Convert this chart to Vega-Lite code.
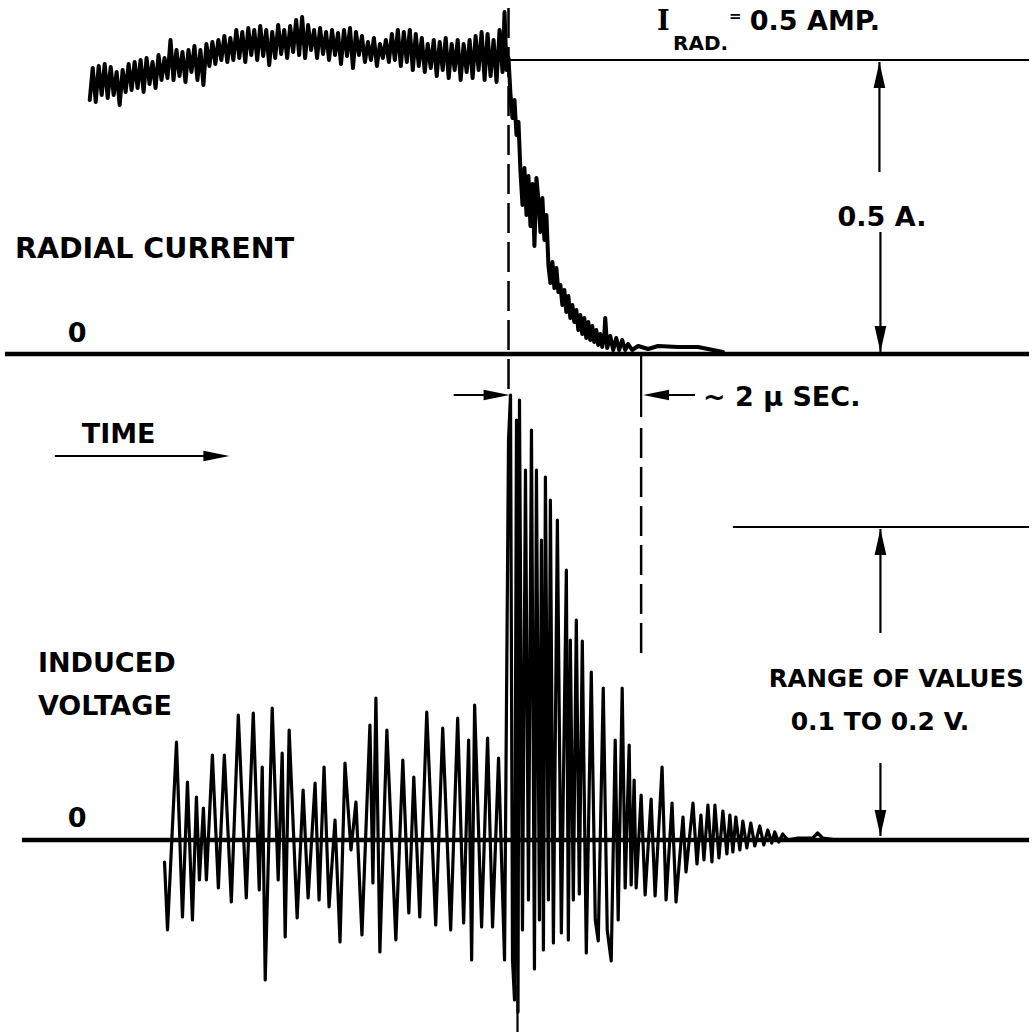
{
  "$schema": "https://vega.github.io/schema/vega-lite/v6.json",
  "width": 1032,
  "height": 1035,
  "padding": 0,
  "autosize": {"type": "fit", "contains": "padding"},
  "background": "white",
  "config": {"view": {"stroke": null}},
  "datasets": {
    "current": [
      {"x":90,"y":100},{"x":93,"y":68},{"x":96,"y":102},{"x":99,"y":66},{"x":102,"y":95},{"x":105,"y":64},{"x":108,"y":98},{"x":111,"y":67},{"x":114,"y":95},{"x":117,"y":72},
      {"x":120,"y":105},{"x":123,"y":70},{"x":126,"y":92},{"x":129,"y":64},{"x":132,"y":90},{"x":135,"y":62},{"x":138,"y":88},{"x":141,"y":60},{"x":144,"y":92},{"x":147,"y":58},
      {"x":150,"y":84},{"x":153,"y":62},{"x":156,"y":88},{"x":159,"y":55},{"x":162,"y":80},{"x":165,"y":58},{"x":168,"y":78},{"x":171,"y":40},{"x":174,"y":80},{"x":177,"y":50},
      {"x":180,"y":76},{"x":183,"y":52},{"x":186,"y":82},{"x":189,"y":50},{"x":192,"y":72},{"x":195,"y":46},{"x":198,"y":80},{"x":201,"y":50},{"x":204,"y":85},{"x":207,"y":44},
      {"x":210,"y":66},{"x":213,"y":42},{"x":216,"y":64},{"x":219,"y":40},{"x":222,"y":60},{"x":225,"y":36},{"x":228,"y":62},{"x":231,"y":38},{"x":234,"y":60},{"x":237,"y":30},
      {"x":240,"y":58},{"x":243,"y":32},{"x":246,"y":62},{"x":249,"y":28},{"x":252,"y":55},{"x":255,"y":30},{"x":258,"y":60},{"x":261,"y":26},{"x":264,"y":56},{"x":267,"y":30},
      {"x":270,"y":65},{"x":273,"y":32},{"x":276,"y":58},{"x":279,"y":25},{"x":282,"y":54},{"x":285,"y":30},{"x":288,"y":58},{"x":291,"y":26},{"x":294,"y":52},{"x":297,"y":20},
      {"x":300,"y":55},{"x":303,"y":17},{"x":306,"y":58},{"x":309,"y":25},{"x":312,"y":50},{"x":315,"y":30},{"x":318,"y":58},{"x":321,"y":28},{"x":324,"y":54},{"x":327,"y":32},
      {"x":330,"y":60},{"x":333,"y":30},{"x":336,"y":55},{"x":339,"y":33},{"x":342,"y":64},{"x":345,"y":30},{"x":348,"y":56},{"x":351,"y":28},{"x":354,"y":68},{"x":357,"y":32},
      {"x":360,"y":55},{"x":363,"y":36},{"x":366,"y":62},{"x":369,"y":42},{"x":372,"y":60},{"x":375,"y":38},{"x":378,"y":66},{"x":381,"y":44},{"x":384,"y":58},{"x":387,"y":40},
      {"x":390,"y":62},{"x":393,"y":34},{"x":396,"y":60},{"x":399,"y":30},{"x":402,"y":66},{"x":405,"y":32},{"x":408,"y":62},{"x":411,"y":30},{"x":414,"y":70},{"x":417,"y":34},
      {"x":420,"y":66},{"x":423,"y":38},{"x":426,"y":72},{"x":429,"y":44},{"x":432,"y":68},{"x":435,"y":40},{"x":438,"y":76},{"x":441,"y":42},{"x":444,"y":70},{"x":447,"y":38},
      {"x":450,"y":78},{"x":453,"y":44},{"x":456,"y":70},{"x":459,"y":40},{"x":462,"y":80},{"x":465,"y":44},{"x":468,"y":72},{"x":471,"y":40},{"x":474,"y":78},{"x":477,"y":36},
      {"x":480,"y":70},{"x":483,"y":32},{"x":486,"y":80},{"x":489,"y":34},{"x":492,"y":76},{"x":495,"y":40},{"x":498,"y":82},{"x":501,"y":30},{"x":504,"y":72},{"x":506,"y":12},
      {"x":508,"y":70},{"x":510,"y":58},{"x":512,"y":95},{"x":514,"y":118},{"x":516,"y":100},{"x":518,"y":135},{"x":520,"y":122},{"x":522,"y":172},{"x":524,"y":205},{"x":526,"y":168},
      {"x":528,"y":215},{"x":530,"y":176},{"x":532,"y":226},{"x":534,"y":184},{"x":536,"y":246},{"x":538,"y":178},{"x":540,"y":200},{"x":542,"y":232},{"x":544,"y":198},{"x":546,"y":240},
      {"x":548,"y":215},{"x":550,"y":265},{"x":552,"y":283},{"x":554,"y":262},{"x":556,"y":288},{"x":558,"y":268},{"x":560,"y":292},{"x":562,"y":285},{"x":564,"y":305},{"x":566,"y":290},
      {"x":568,"y":312},{"x":570,"y":296},{"x":572,"y":318},{"x":574,"y":305},{"x":576,"y":322},{"x":578,"y":310},{"x":580,"y":330},{"x":582,"y":315},{"x":584,"y":334},{"x":586,"y":318},
      {"x":588,"y":338},{"x":590,"y":322},{"x":592,"y":340},{"x":594,"y":326},{"x":596,"y":342},{"x":598,"y":330},{"x":600,"y":345},{"x":602,"y":334},{"x":604,"y":347},{"x":606,"y":336},
      {"x":607,"y":318},{"x":609,"y":348},{"x":612,"y":336},{"x":615,"y":350},{"x":618,"y":338},{"x":621,"y":350},{"x":624,"y":340},{"x":627,"y":350},{"x":630,"y":344},{"x":634,"y":350},
      {"x":640,"y":346},{"x":650,"y":349},{"x":660,"y":346},{"x":680,"y":347},{"x":700,"y":347},{"x":715,"y":350},{"x":725,"y":352}
    ],
    "voltage": [
      {"x":165,"y":862},{"x":168,"y":930},{"x":177,"y":742},{"x":183,"y":917},{"x":188,"y":782},{"x":193,"y":920},{"x":197,"y":797},{"x":200,"y":880},{"x":204,"y":808},{"x":207,"y":880},
      {"x":213,"y":755},{"x":219,"y":888},{"x":225,"y":755},{"x":232,"y":902},{"x":239,"y":715},{"x":247,"y":898},{"x":254,"y":713},{"x":260,"y":890},{"x":263,"y":767},{"x":266,"y":980},
      {"x":273,"y":708},{"x":279,"y":880},{"x":283,"y":753},{"x":286,"y":937},{"x":290,"y":730},{"x":298,"y":918},{"x":304,"y":790},{"x":309,"y":898},{"x":316,"y":783},{"x":320,"y":900},
      {"x":325,"y":767},{"x":330,"y":907},{"x":336,"y":820},{"x":341,"y":942},{"x":346,"y":763},{"x":352,"y":850},{"x":357,"y":802},{"x":363,"y":935},{"x":371,"y":725},{"x":374,"y":883},
      {"x":377,"y":698},{"x":381,"y":952},{"x":388,"y":730},{"x":397,"y":940},{"x":404,"y":760},{"x":410,"y":913},{"x":415,"y":777},{"x":421,"y":917},{"x":428,"y":712},{"x":437,"y":925},
      {"x":444,"y":728},{"x":452,"y":930},{"x":459,"y":718},{"x":465,"y":923},{"x":470,"y":740},{"x":473,"y":960},{"x":476,"y":705},{"x":483,"y":927},{"x":489,"y":738},{"x":494,"y":927},
      {"x":500,"y":758},{"x":506,"y":960},{"x":510,"y":440},{"x":512,"y":395},{"x":514,"y":960},{"x":516,"y":1000},{"x":518,"y":420},{"x":519.5,"y":1012},{"x":521,"y":400},{"x":524,"y":930},
      {"x":527,"y":470},{"x":530,"y":900},{"x":533,"y":430},{"x":536,"y":969},{"x":538,"y":470},{"x":541,"y":920},{"x":543,"y":540},{"x":545,"y":950},{"x":547,"y":477},{"x":550,"y":900},
      {"x":552,"y":500},{"x":555,"y":943},{"x":559,"y":520},{"x":563,"y":933},{"x":568,"y":570},{"x":570,"y":940},{"x":572,"y":640},{"x":575,"y":900},{"x":578,"y":620},{"x":581,"y":894},
      {"x":584,"y":641},{"x":588,"y":953},{"x":593,"y":672},{"x":597,"y":920},{"x":600,"y":941},{"x":605,"y":688},{"x":609,"y":930},{"x":613,"y":961},{"x":617,"y":740},{"x":620,"y":920},
      {"x":624,"y":688},{"x":627,"y":888},{"x":631,"y":745},{"x":633,"y":885},{"x":636,"y":780},{"x":638,"y":888},{"x":643,"y":795},{"x":647,"y":895},{"x":653,"y":799},{"x":657,"y":896},
      {"x":664,"y":767},{"x":668,"y":900},{"x":674,"y":803},{"x":678,"y":902},{"x":685,"y":817},{"x":688,"y":872},{"x":695,"y":803},{"x":699,"y":864},{"x":703,"y":815},{"x":706,"y":860},
      {"x":710,"y":805},{"x":714,"y":862},{"x":717,"y":805},{"x":721,"y":858},{"x":725,"y":811},{"x":729,"y":854},{"x":732,"y":815},{"x":735,"y":852},{"x":738,"y":817},{"x":742,"y":850},
      {"x":745,"y":821},{"x":749,"y":848},{"x":753,"y":823},{"x":757,"y":846},{"x":762,"y":826},{"x":766,"y":845},{"x":770,"y":830},{"x":774,"y":843},{"x":777,"y":832},{"x":781,"y":842},
      {"x":785,"y":834},{"x":790,"y":840},{"x":800,"y":838},{"x":815,"y":838},{"x":820,"y":833},{"x":825,"y":838},{"x":840,"y":840}
    ],
    "baselines": [
      {"x":5,"x2":1032,"y":354,"y2":354},
      {"x":22,"x2":1032,"y":840,"y2":840}
    ],
    "thin": [
      {"x":510,"x2":1032,"y":60,"y2":60},
      {"x":735,"x2":1032,"y":527,"y2":527},
      {"x":882,"x2":882,"y":62,"y2":172},
      {"x":883,"x2":883,"y":232,"y2":352},
      {"x":883,"x2":883,"y":529,"y2":633},
      {"x":883,"x2":883,"y":763,"y2":836},
      {"x":455,"x2":500,"y":395,"y2":395},
      {"x":655,"x2":697,"y":395,"y2":395},
      {"x":55,"x2":215,"y":456,"y2":456},
      {"x":643,"x2":643,"y":354,"y2":417},
      {"x":519,"x2":519,"y":985,"y2":1032}
    ],
    "dashed": [
      {"x":510,"x2":510,"y":8,"y2":398},
      {"x":643,"x2":643,"y":428,"y2":655}
    ],
    "arrows": [
      {"x":882,"y":75,"dir":"up"},
      {"x":883,"y":339,"dir":"down"},
      {"x":883,"y":542,"dir":"up"},
      {"x":883,"y":823,"dir":"down"},
      {"x":498,"y":395,"dir":"right"},
      {"x":658,"y":395,"dir":"left"},
      {"x":217,"y":456,"dir":"right"}
    ],
    "big": [
      {"text":"RADIAL CURRENT","x":15,"y":258}
    ],
    "labels": [
      {"text":"0","x":68,"y":342},
      {"text":"TIME","x":82,"y":443},
      {"text":"INDUCED","x":38,"y":672},
      {"text":"VOLTAGE","x":38,"y":715},
      {"text":"0","x":68,"y":827},
      {"text":"0.5 A.","x":840,"y":226},
      {"text":"~ 2 μ SEC.","x":705,"y":406},
      {"text":"0.5 AMP.","x":752,"y":30}
    ],
    "range": [
      {"text":"RANGE OF VALUES","x":771,"y":687}
    ],
    "small": [
      {"text":"0.1 TO 0.2 V.","x":793,"y":730}
    ],
    "sub": [
      {"text":"RAD.","x":675,"y":50}
    ],
    "eq": [
      {"text":"=","x":731,"y":21}
    ],
    "symbolI": [
      {"text":"I","x":659,"y":30}
    ]
  },
  "encoding": {
    "x": {"field": "x", "type": "quantitative", "scale": {"domain": [0, 1032], "nice": false, "zero": false}, "axis": null},
    "y": {"field": "y", "type": "quantitative", "scale": {"domain": [0, 1035], "nice": false, "zero": false, "reverse": true}, "axis": null}
  },
  "layer": [
    {
      "data": {"name": "baselines"},
      "mark": {"type": "rule", "color": "black", "strokeWidth": 4.5},
      "encoding": {"x2": {"field": "x2"}, "y2": {"field": "y2"}}
    },
    {
      "data": {"name": "thin"},
      "mark": {"type": "rule", "color": "black", "strokeWidth": 2.2},
      "encoding": {"x2": {"field": "x2"}, "y2": {"field": "y2"}}
    },
    {
      "data": {"name": "dashed"},
      "mark": {"type": "rule", "color": "black", "strokeWidth": 2.5, "strokeDash": [30, 9]},
      "encoding": {"x2": {"field": "x2"}, "y2": {"field": "y2"}}
    },
    {
      "data": {"name": "current"},
      "mark": {"type": "line", "color": "black", "strokeWidth": 4, "strokeJoin": "round", "strokeCap": "round"}
    },
    {
      "data": {"name": "voltage"},
      "mark": {"type": "line", "color": "black", "strokeWidth": 3.2, "strokeJoin": "round", "strokeCap": "round"}
    },
    {
      "data": {"name": "arrows"},
      "transform": [{"filter": "datum.dir === 'down'"}],
      "mark": {"type": "point", "shape": "M-0.45,-1L0.45,-1L0,1Z", "filled": true, "color": "black", "opacity": 1, "size": 676, "angle": 0}
    },
    {
      "data": {"name": "arrows"},
      "transform": [{"filter": "datum.dir === 'up'"}],
      "mark": {"type": "point", "shape": "M-0.45,-1L0.45,-1L0,1Z", "filled": true, "color": "black", "opacity": 1, "size": 676, "angle": 180}
    },
    {
      "data": {"name": "arrows"},
      "transform": [{"filter": "datum.dir === 'left'"}],
      "mark": {"type": "point", "shape": "M-0.4,-1L0.4,-1L0,1Z", "filled": true, "color": "black", "opacity": 1, "size": 676, "angle": 90}
    },
    {
      "data": {"name": "arrows"},
      "transform": [{"filter": "datum.dir === 'right'"}],
      "mark": {"type": "point", "shape": "M-0.4,-1L0.4,-1L0,1Z", "filled": true, "color": "black", "opacity": 1, "size": 676, "angle": 270}
    },
    {
      "data": {"name": "big"},
      "mark": {"type": "text", "font": "DejaVu Sans", "fontWeight": "bold", "fontSize": 28.5, "align": "left", "baseline": "alphabetic", "color": "black"},
      "encoding": {"text": {"field": "text"}}
    },
    {
      "data": {"name": "labels"},
      "mark": {"type": "text", "font": "DejaVu Sans", "fontWeight": "bold", "fontSize": 27, "align": "left", "baseline": "alphabetic", "color": "black"},
      "encoding": {"text": {"field": "text"}}
    },
    {
      "data": {"name": "range"},
      "mark": {"type": "text", "font": "DejaVu Sans", "fontWeight": "bold", "fontSize": 24.5, "align": "left", "baseline": "alphabetic", "color": "black"},
      "encoding": {"text": {"field": "text"}}
    },
    {
      "data": {"name": "small"},
      "mark": {"type": "text", "font": "DejaVu Sans", "fontWeight": "bold", "fontSize": 25, "align": "left", "baseline": "alphabetic", "color": "black"},
      "encoding": {"text": {"field": "text"}}
    },
    {
      "data": {"name": "sub"},
      "mark": {"type": "text", "font": "DejaVu Sans", "fontWeight": "bold", "fontSize": 20, "align": "left", "baseline": "alphabetic", "color": "black"},
      "encoding": {"text": {"field": "text"}}
    },
    {
      "data": {"name": "eq"},
      "mark": {"type": "text", "font": "DejaVu Sans", "fontWeight": "bold", "fontSize": 15, "align": "left", "baseline": "alphabetic", "color": "black"},
      "encoding": {"text": {"field": "text"}}
    },
    {
      "data": {"name": "symbolI"},
      "mark": {"type": "text", "font": "DejaVu Serif", "fontWeight": "bold", "fontSize": 27, "align": "left", "baseline": "alphabetic", "color": "black"},
      "encoding": {"text": {"field": "text"}}
    }
  ]
}
